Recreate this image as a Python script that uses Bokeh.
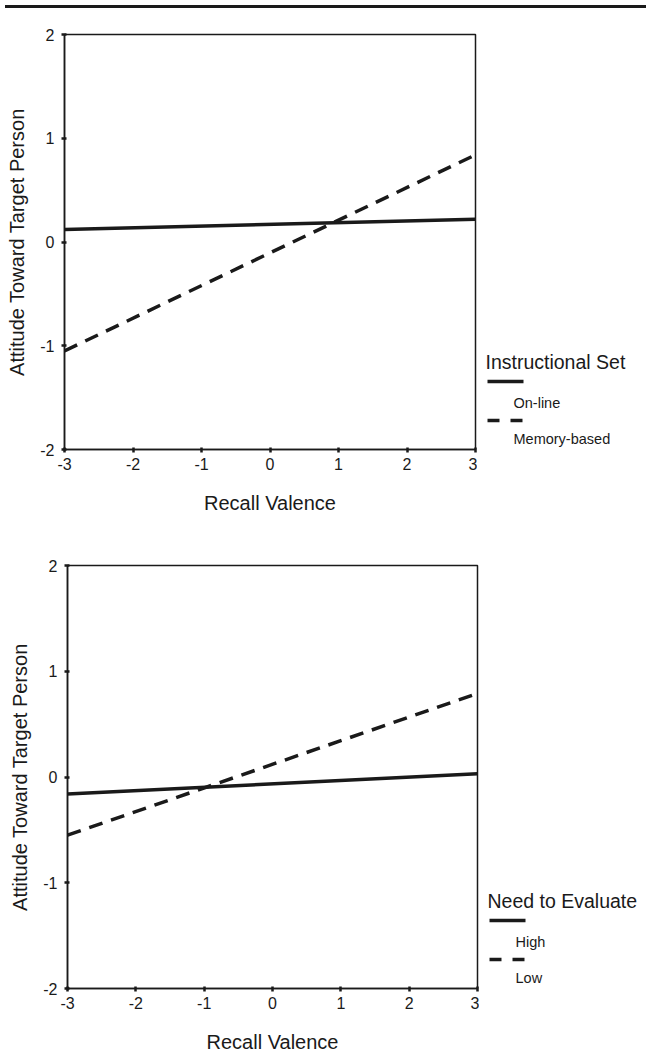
from bokeh.plotting import figure
from bokeh.models import Range1d, FixedTicker, Div
from bokeh.layouts import column, row
from bokeh.embed import file_html
from bokeh.resources import INLINE
from bokeh.core.properties import value

# ---- data ----
recall_valence = [-3, 3]
online = [0.12, 0.22]
memory_based = [-1.05, 0.84]
need_high = [-0.16, 0.03]
need_low = [-0.55, 0.79]
x_ticks = [-3, -2, -1, 0, 1, 2, 3]
y_ticks = [-2, -1, 0, 1, 2]
x_label = "Recall Valence"
y_label = "Attitude Toward Target Person"

FONT = "Liberation Sans"
INK = "#1a1a1a"
W = 641


def make_plot(width, height, b_left, b_top, b_bottom, y_solid, y_dash):
    p = figure(width=width, height=height, x_range=Range1d(-3, 3), y_range=Range1d(-2, 2),
               output_backend="svg", toolbar_location=None,
               min_border_left=b_left, min_border_right=2,
               min_border_top=b_top, min_border_bottom=b_bottom)
    p.xgrid.visible = False
    p.ygrid.visible = False
    p.outline_line_color = INK
    p.outline_line_width = 1.5
    p.outline_line_alpha = 1.0

    p.xaxis.ticker = FixedTicker(ticks=x_ticks)
    p.yaxis.ticker = FixedTicker(ticks=y_ticks)
    p.xaxis.major_label_overrides = {t: str(t) for t in x_ticks}
    p.yaxis.major_label_overrides = {t: str(t) for t in y_ticks}
    for ax in (p.xaxis[0], p.yaxis[0]):
        ax.axis_line_color = INK
        ax.axis_line_width = 1.5
        ax.major_tick_line_color = INK
        ax.major_tick_line_width = 2.5
        ax.major_tick_in = 2
        ax.major_tick_out = 3
        ax.minor_tick_line_color = None
        ax.major_label_text_font = FONT
        ax.major_label_text_font_size = "16px"
        ax.major_label_text_color = INK
        ax.axis_label_text_font = FONT
        ax.axis_label_text_font_size = "20px"
        ax.axis_label_text_font_style = "normal"
        ax.axis_label_text_color = INK
    p.xaxis.axis_label = x_label
    p.yaxis.axis_label = y_label
    p.xaxis.major_label_standoff = 5
    p.xaxis.axis_label_standoff = 19
    p.yaxis.major_label_standoff = 7
    p.yaxis.axis_label_standoff = 9

    p.line(recall_valence, y_solid, line_color=INK, line_width=3.5)
    p.line(recall_valence, y_dash, line_color=INK, line_width=3.5, line_dash="14 9")
    return p


def make_legend(width, height, b_top, b_bottom, title, labels):
    # legend frame lines up with the plot frame: x = px right of the legend's left edge,
    # y = px above the plot frame's bottom edge
    fh = height - b_top - b_bottom
    lg = figure(width=width, height=height, x_range=Range1d(0, width),
                y_range=Range1d(0, fh), output_backend="svg",
                toolbar_location=None, x_axis_type=None, y_axis_type=None,
                min_border_left=0, min_border_right=0,
                min_border_top=b_top, min_border_bottom=b_bottom)
    lg.xgrid.visible = False
    lg.ygrid.visible = False
    lg.outline_line_color = None
    lg.text(x=[8], y=[88], text=[title], text_font=value(FONT),
            text_font_size="19.5px", text_color=INK, text_baseline="middle",
            text_align="left")
    lg.line([10, 46], [68, 68], line_color=INK, line_width=3.5)
    lg.text(x=[36, 36], y=[47, 11], text=labels, text_font=value(FONT),
            text_font_size="14.5px", text_color=INK, text_baseline="middle",
            text_align="left")
    lg.line([10, 46], [29, 29], line_color=INK, line_width=3.5, line_dash="12 11")
    return lg


rule = Div(text="", width=W, height=3, styles={"background-color": INK})

# top panel: frame x 72..483, y 32..447 (page)
h1, bt1, bb1, bl1, w1 = 516, 21, 80, 64, 477
p1 = make_plot(w1, h1, bl1, bt1, bb1, online, memory_based)
l1 = make_legend(W - w1, h1, bt1, bb1, "Instructional Set", ["On-line", "Memory-based"])

# bottom panel: frame x 75..485, y 563..986 (page)
h2, bt2, bb2, bl2, w2 = 526, 36, 67, 67, 479
p2 = make_plot(w2, h2, bl2, bt2, bb2, need_high, need_low)
l2 = make_legend(W - w2, h2, bt2, bb2, "Need to Evaluate", ["High", "Low"])

layout = column(rule, row(p1, l1, spacing=0), row(p2, l2, spacing=0), spacing=0)
open("out.html", "w").write(file_html(layout, INLINE))
